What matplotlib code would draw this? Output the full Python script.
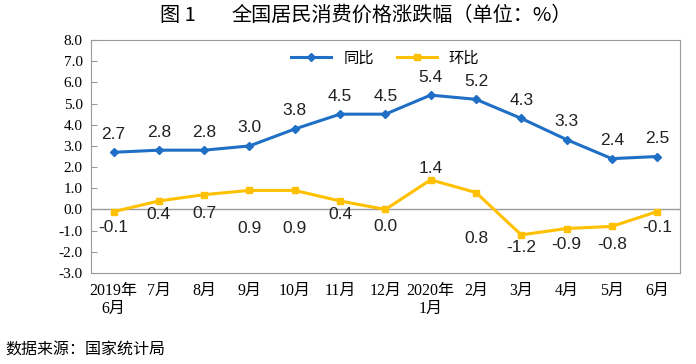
import matplotlib.pyplot as plt
import numpy as np

plt.rcParams['font.family'] = ['Liberation Sans', 'Noto Sans CJK SC']

# data
months = ["2019年\n6月", "7月", "8月", "9月", "10月", "11月", "12月",
          "2020年\n1月", "2月", "3月", "4月", "5月", "6月"]
yoy = [2.7, 2.8, 2.8, 3.0, 3.8, 4.5, 4.5, 5.4, 5.2, 4.3, 3.3, 2.4, 2.5]
mom = [-0.1, 0.4, 0.7, 0.9, 0.9, 0.4, 0.0, 1.4, 0.8, -1.2, -0.9, -0.8, -0.1]

# vertical pixel offsets of the 环比 labels (as placed in the original)
mom_dy = [-16, -14, -19, -38, -38, -14, -17, 11, -46, -13, -16, -18, -16]

blue = "#1f6fc6"
yellow = "#ffc000"

fig = plt.figure(figsize=(6.96, 3.64), dpi=100)
ax = fig.add_axes([0.1307, 0.25, 0.846, 0.64])
x = np.arange(len(months))

ax.plot(x, yoy, color=blue, lw=2.2, marker="D", ms=4.5, label="同比")
ax.plot(x, mom, color=yellow, lw=2.2, marker="s", ms=4.5, label="环比")

for i, v in enumerate(yoy):
    ax.annotate(f"{v:.1f}", (i, v), xytext=(0, 18), textcoords="offset pixels",
                ha="center", va="center", fontsize=12.5, color="#222222")
for i, v in enumerate(mom):
    ax.annotate(f"{v:.1f}", (i, v), xytext=(0, mom_dy[i]), textcoords="offset pixels",
                ha="center", va="center", fontsize=12.5, color="#222222")

ax.axhline(0, color="#9a9a9a", lw=1, zorder=0)
ax.set_xlim(-0.5, len(months) - 0.5)
ax.set_ylim(-3, 8)
ax.set_yticks(np.arange(-3, 8.1, 1))
ax.set_yticklabels([f"{t:.1f}" for t in np.arange(-3, 8.1, 1)],
                   family=["Liberation Serif"], fontsize=11)
ax.set_xticks(x)
ax.set_xticklabels(months, family=["Liberation Serif", "Noto Sans CJK SC"],
                   fontsize=11.5, linespacing=1.15)
ax.tick_params(axis="x", length=0, pad=7)
ax.tick_params(axis="y", direction="in", length=4, color="#9a9a9a", pad=6)
for s in ax.spines.values():
    s.set_color("#9a9a9a")

ax.legend(loc="upper center", ncol=2, frameon=False, fontsize=11,
          handlelength=2.6, columnspacing=1.5, bbox_to_anchor=(0.5, 1.01))

fig.text(0.23, 0.958, "图 1", ha="left", va="center",
         fontsize=14.5, family=["Noto Sans CJK SC"])
fig.text(0.333, 0.958, "全国居民消费价格涨跌幅（单位：%）", ha="left", va="center",
         fontsize=14.5, family=["Noto Sans CJK SC"])
fig.text(0.007, 0.038, "数据来源：国家统计局", ha="left", va="center",
         fontsize=11.5, family=["Noto Sans CJK SC"])

fig.savefig("out.png", dpi=100)
